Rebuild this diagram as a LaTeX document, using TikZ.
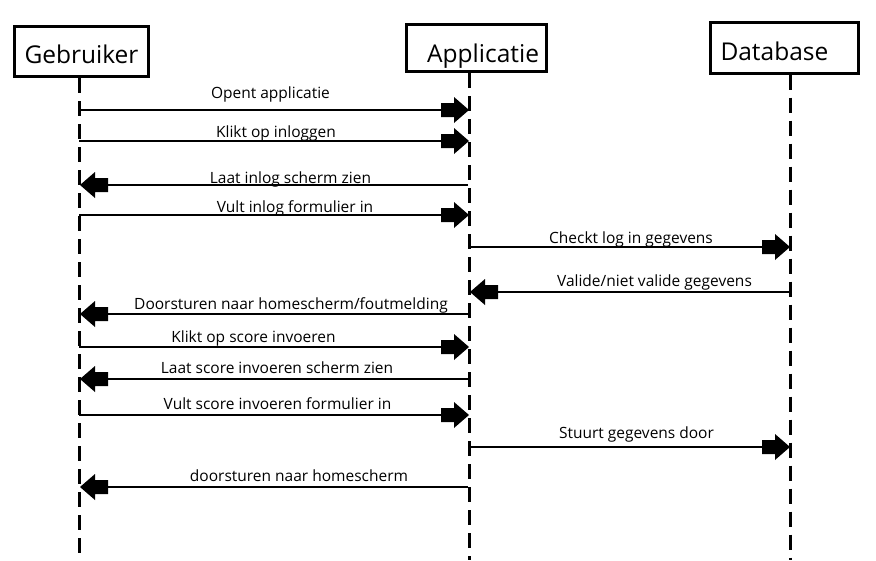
\documentclass[tikz,border=0pt]{standalone}
\usepackage{fontspec}
\setmainfont{Open Sans}
\pgfdeclarearrow{
  name=BlockArr,
  setup code={
    \pgfarrowssettipend{0pt}
    \pgfarrowssetlineend{-20pt}
    \pgfarrowssetvisualbackend{-28pt}
    \pgfarrowssetbackend{-28pt}
    \pgfarrowshullpoint{0pt}{0pt}
    \pgfarrowshullpoint{-28pt}{13pt}
    \pgfarrowshullpoint{-28pt}{-13pt}
  },
  drawing code={
    \pgfpathmoveto{\pgfqpoint{0pt}{0pt}}
    \pgfpathlineto{\pgfqpoint{-15pt}{13pt}}
    \pgfpathlineto{\pgfqpoint{-15pt}{7pt}}
    \pgfpathlineto{\pgfqpoint{-28pt}{7pt}}
    \pgfpathlineto{\pgfqpoint{-28pt}{-7pt}}
    \pgfpathlineto{\pgfqpoint{-15pt}{-7pt}}
    \pgfpathlineto{\pgfqpoint{-15pt}{-13pt}}
    \pgfpathclose
    \pgfusepathqfill
  }
}
\begin{document}
\begin{tikzpicture}[x=1pt,y=-1pt,
  actor/.style={draw=black, line width=3pt, rectangle, inner sep=0pt,
    text depth=0pt, font=\fontsize{24.5}{28}\selectfont},
  life/.style={line width=3pt, dash pattern=on 15pt off 8pt},
  msg/.style={line width=2.2pt, -BlockArr},
  lbl/.style={anchor=base, inner sep=0pt, font=\fontsize{15.5}{18}\selectfont}]
\fill[white] (0,0) rectangle (876,560);
\useasboundingbox (0,0) rectangle (876,560);

% actors
\node[actor, minimum width=134pt, minimum height=50pt, text height=23pt] (geb) at (81.5,51.5) {Gebruiker};
\node[actor, minimum width=140pt, minimum height=47pt, text height=28pt,
  text width=125pt, align=right] (app) at (476.5,48) {Applicatie};
\node[actor, minimum width=148pt, minimum height=51pt, text height=25pt,
  text width=128pt, align=left] (db) at (784.5,47.5) {Database};

% lifeline x positions
\coordinate (gx) at (79,560);
\coordinate (ax) at (469,560);
\coordinate (dx) at (790,560);
\draw[life] (gx |- geb.south) -- (gx);
\draw[life] (ax |- app.south) -- (ax);
\draw[life] (dx |- db.south) -- (dx);

% message end points
\coordinate (g1) at (79,110);  \coordinate (a1) at (469,110);
\coordinate (g2) at (79,141);  \coordinate (a2) at (469,141);
\coordinate (a3) at (468,185); \coordinate (g3) at (80,185);
\coordinate (g4) at (79,215);  \coordinate (a4) at (469,215);
\coordinate (a5) at (469,247); \coordinate (d5) at (790,247);
\coordinate (d6) at (790,292); \coordinate (a6) at (470,292);
\coordinate (a7) at (468,314); \coordinate (g7) at (80,314);
\coordinate (g8) at (79,347);  \coordinate (a8) at (469,347);
\coordinate (a9) at (468,379); \coordinate (g9) at (80,379);
\coordinate (g10) at (79,415); \coordinate (a10) at (469,415);
\coordinate (a11) at (469,447); \coordinate (d11) at (790,447);
\coordinate (a12) at (468,487); \coordinate (g12) at (80,487);

\draw[msg] (g1) -- (a1);
\draw[msg] (g2) -- (a2);
\draw[msg] (a3) -- (g3);
\draw[msg] (g4) -- (a4);
\draw[msg] (a5) -- (d5);
\draw[msg] (d6) -- (a6);
\draw[msg] (a7) -- (g7);
\draw[msg] (g8) -- (a8);
\draw[msg] (a9) -- (g9);
\draw[msg] (g10) -- (a10);
\draw[msg] (a11) -- (d11);
\draw[msg] (a12) -- (g12);

% labels
\node[lbl] (l1) at (270.5,98) {Opent applicatie};
\node[lbl] (l2) at (276,137) {Klikt op inloggen};
\node[lbl] (l3) at (290.5,183) {Laat inlog scherm zien};
\node[lbl] (l4) at (295,212) {Vult inlog formulier in};
\node[lbl] (l5) at (631,243) {Checkt log in gegevens};
\node[lbl] (l6) at (654.5,286) {Valide/niet valide gegevens};
\node[lbl] (l7) at (291,309) {Doorsturen naar homescherm/foutmelding};
\node[lbl] (l8) at (253.5,342) {Klikt op score invoeren};
\node[lbl] (l9) at (277,373) {Laat score invoeren scherm zien};
\node[lbl] (l10) at (277.5,409) {Vult score invoeren formulier in};
\node[lbl] (l11) at (636.5,438) {Stuurt gegevens door};
\node[lbl] (l12) at (299,481) {doorsturen naar homescherm};
\end{tikzpicture}
\end{document}
